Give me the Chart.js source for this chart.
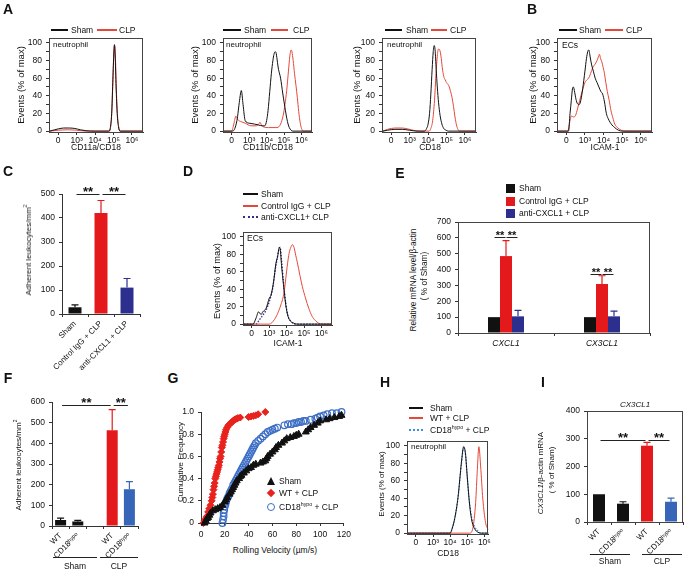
<!DOCTYPE html>
<html><head><meta charset="utf-8">
<script src="https://cdn.jsdelivr.net/npm/chart.js@4.4.1/dist/chart.umd.min.js"></script>
<style>
html,body{margin:0;padding:0;background:#fff}
body{width:685px;height:572px;position:relative;overflow:hidden;font-family:"Liberation Sans",Arial,sans-serif;color:#111}
canvas{position:absolute}
.t{position:absolute;white-space:nowrap;line-height:1}
sup{font-size:0.62em;vertical-align:super;line-height:0}
.ll{position:absolute;height:0}
</style></head><body>
<script>
// ===================== DATA =====================
const histTickLabels = ['0','10³','10⁴','10⁵','10⁶'];
const histYTicks = [0,10,20,30,40,50,60,70,80,90,100];

// A: CD11a/CD18
const a1ShamX = [-0.45,-0.2,0,0.3,0.6,0.9,1.2,1.5,2.0,2.75,2.82,2.9,2.96,3.01,3.05,3.09,3.14,3.2,3.27,3.35,4.6];
const a1ShamY = [0,1.5,2.5,3.5,3.5,3,1.5,0.5,0,0,3,20,55,85,98,85,50,20,5,0,0];
const a1ClpX  = [-0.45,0,0.5,1.0,1.5,2.75,2.83,2.91,2.97,3.02,3.06,3.1,3.15,3.21,3.28,3.36,4.6];
const a1ClpY  = [0,1,1.5,1,0,0,3,22,58,88,97,86,50,20,5,0,0];
// A: CD11b/CD18
const a2ShamX = [-0.45,0.05,0.3,0.45,0.55,0.65,0.77,1.0,1.3,1.52,1.75,1.9,2.0,2.08,2.18,2.27,2.36,2.42,2.49,2.55,2.62,2.68,2.73,2.8,2.86,2.93,3.0,3.08,3.16,3.23,3.3,3.4,3.5,4.6];
const a2ShamY = [0,0,12,35,46,30,12,9,8,7,6,6,12,23,45,65,80,87,90,88,78,70,66,60,52,42,33,23,14,8,4,1,0,0];
const a2ClpX  = [-0.45,0.0,0.12,0.24,0.35,0.5,0.77,1.1,1.4,1.55,1.62,1.7,1.8,2.1,2.6,2.8,2.95,3.05,3.15,3.25,3.33,3.4,3.45,3.52,3.6,3.68,3.76,3.84,3.92,4.0,4.08,4.6];
const a2ClpY  = [0,0,8,17,13,11,9,6,6,8,10,7,5,4,4,8,18,30,46,68,85,92,90,80,65,52,38,22,10,3,0,0];
// A: CD18
const a3ShamX = [-0.45,-0.2,0.2,0.6,1.0,1.4,1.8,1.92,2.0,2.08,2.15,2.22,2.28,2.33,2.38,2.44,2.5,2.57,2.65,2.75,2.85,2.98,3.1,4.6];
const a3ShamY = [0,1,2,2,1,0,0,3,8,20,42,70,90,97,92,70,50,32,18,8,3,1,0,0];
const a3ClpX  = [-0.45,-0.2,0.2,0.6,0.9,1.3,1.6,2.05,2.15,2.25,2.35,2.43,2.5,2.56,2.63,2.7,2.77,2.85,2.93,3.0,3.08,3.15,3.22,3.3,3.38,3.46,3.54,3.62,3.72,4.6];
const a3ClpY  = [0,2,3.5,3.5,2.5,0.5,0,0,3,12,35,65,85,93,92,85,72,62,58,55,53,50,45,38,28,16,7,2,0,0];
// B: ICAM-1
const bShamX = [-0.45,0.12,0.2,0.27,0.33,0.38,0.45,0.52,0.6,0.69,0.78,0.88,1.0,1.08,1.15,1.21,1.28,1.36,1.45,1.55,1.65,1.75,1.85,1.95,2.05,2.15,2.25,2.35,2.45,2.6,2.8,3.0,4.6];
const bShamY = [0,0,20,35,48,50,44,36,31,30,35,48,68,82,90,92,84,75,68,60,55,50,45,42,33,20,14,10,7,4,1,0,0];
const bClpX  = [-0.45,0.08,0.18,0.27,0.4,0.5,0.6,0.72,0.85,1.0,1.1,1.2,1.3,1.42,1.55,1.65,1.72,1.78,1.84,1.9,1.98,2.05,2.12,2.2,2.3,2.4,2.5,2.6,2.75,2.95,3.2,4.6];
const bClpY  = [0,0,10,17,16,18,25,35,45,55,58,60,65,72,76,80,84,87,82,79,72,65,55,45,35,23,15,8,4,1,0,0];
// D: ICAM-1
const dShamX = [-0.45,0.07,0.25,0.39,0.54,0.63,0.82,1.01,1.1,1.25,1.39,1.48,1.58,1.63,1.71,1.82,1.95,2.08,2.24,2.42,2.6,4.6];
const dShamY = [0,0,7,14,11,14,18,30,33,48,70,77,88,86,67,45,22,9,3,1,0,0];
const dIgGX  = [-0.45,1.01,1.29,1.48,1.67,1.86,1.95,2.05,2.14,2.24,2.33,2.42,2.52,2.61,2.76,2.9,3.08,3.27,3.46,3.65,3.84,4.0,4.6];
const dIgGY  = [0,0,5,12,22,37,52,69,81,88,91,88,79,71,56,43,30,18,9,4,1,0,0];
const dAntiX = [-0.45,0.25,0.44,0.63,0.82,1.01,1.2,1.33,1.44,1.56,1.63,1.71,1.82,1.95,2.08,2.27,2.5,4.6];
const dAntiY = [0,0,5,10,16,26,41,60,73,86,88,73,48,24,9,3,0,0];
// H: CD18
const hShamX = [-0.5,2.0,2.08,2.27,2.46,2.66,2.79,2.89,3.01,3.14,3.28,3.43,3.62,3.8,4.24];
const hShamY = [0,0,3,17,41,81,99,92,62,32,13,5,1,0,0];
const hHypoX = [-0.5,2.02,2.1,2.28,2.47,2.66,2.78,2.88,3.0,3.13,3.27,3.42,3.6,3.8,4.24];
const hHypoY = [0,0,4,18,42,80,97,93,64,35,17,8,3,0,0];
const hWtX   = [-0.5,3.14,3.33,3.49,3.59,3.68,3.78,3.91,4.07,4.2,4.24];
const hWtY   = [0,0,6,35,73,99,77,39,12,5,4];

// C
const cCats = ['Sham','Control IgG + CLP','anti-CXCL1 + CLP'];
const cVals = [28,421,110];
const cErr  = [10,52,38];
// E
const eCats = ['CXCL1','CX3CL1'];
const eSham = [100,100], eShamErr = [0,0];
const eIgG  = [485,309], eIgGErr  = [98,52];
const eAnti = [105,105], eAntiErr = [38,33];
// F
const fCats = ['WT','CD18ʰʸᵖᵒ','','WT','CD18ʰʸᵖᵒ'];
const fVals = [29,22,null,463,178];
const fErr  = [9,5,null,100,37];
// I
const iCats = ['WT','CD18ʰʸᵖᵒ','WT','CD18ʰʸᵖᵒ'];
const iVals = [100,66,275,73];
const iErr  = [0,7,12,13];
// G: cumulative frequency vs rolling velocity
const gShamV = [3,4,5,6,7,8,10,12,14,16,18,20,21,22,24,25,26,27,28,29,30,32,33,34,36,38,40,42,44,46,50,52,54,55,56,58,60,62,63,65,68,70,72,75,78,80,82,88,90,92,95,98,100,105,108,112,116,118];
const gShamF = [0,0.02,0.04,0.05,0.07,0.09,0.11,0.12,0.13,0.14,0.16,0.19,0.21,0.23,0.26,0.28,0.3,0.32,0.34,0.36,0.38,0.4,0.42,0.43,0.45,0.47,0.49,0.5,0.52,0.53,0.54,0.55,0.56,0.58,0.6,0.62,0.64,0.66,0.68,0.7,0.72,0.74,0.76,0.77,0.78,0.79,0.8,0.82,0.84,0.86,0.88,0.9,0.92,0.93,0.94,0.95,0.96,0.97];
const gWtV = [2,3,4,5,6,7,8,9,9.5,10,10.5,11,11.5,12,12.5,13,13.5,14,14.5,15,15.5,16,16.5,17,17.5,18,18.5,19,19.5,20,20.5,21,22,23,24,25,26,27,28,29,30,31,33,40,42,44,46,48,54];
const gWtF = [0,0.02,0.04,0.06,0.1,0.13,0.16,0.2,0.23,0.26,0.3,0.33,0.36,0.4,0.42,0.44,0.46,0.48,0.5,0.52,0.55,0.58,0.6,0.64,0.68,0.7,0.73,0.76,0.78,0.8,0.82,0.84,0.86,0.88,0.89,0.9,0.91,0.92,0.93,0.935,0.94,0.945,0.95,0.955,0.96,0.965,0.97,0.98,1.0];
const gHypoV = [18,18.5,19,19,19.5,20,20.5,21,22,23,24,25,26,27,28,29,30,31,32,33,34,35,36,37,38,39,40,41,42,43,44,45,46,48,50,52,54,56,58,60,62,64,70,73,76,78,80,82,84,86,88,92,96,98,100,103,106,110,114,118];
const gHypoF = [0,0.03,0.06,0.09,0.12,0.15,0.17,0.19,0.22,0.24,0.27,0.29,0.31,0.34,0.36,0.38,0.4,0.42,0.44,0.46,0.48,0.5,0.52,0.54,0.56,0.58,0.6,0.62,0.64,0.66,0.68,0.7,0.72,0.74,0.76,0.78,0.8,0.82,0.83,0.84,0.85,0.86,0.88,0.89,0.89,0.9,0.9,0.91,0.91,0.92,0.92,0.93,0.94,0.95,0.96,0.97,0.98,0.99,0.99,1.0];
const gTicksY = [0,0.2,0.4,0.6,0.8,1.0];

// ===================== STYLE =====================
const BLACK='#111', HRED='#e4483a', RED='#e3191b', NAVY='#2c2f8e', BLUE='#3766b9', HBLUE='#3f8fd8';
Chart.defaults.font.family = '"Liberation Sans", Arial, sans-serif';
Chart.defaults.font.size = 8.5;
Chart.defaults.color = '#111';
const axisGrid = {drawOnChartArea:false, tickLength:3, color:'#333', lineWidth:1};
const axisBorder = {color:'#333', width:1};

// ===================== PLUGINS =====================
Chart.register({
  id:'frame',
  afterDraw(c, a, o){ if(!o || !o.on) return; const r=c.chartArea, x=c.ctx; x.save(); x.strokeStyle='#444'; x.lineWidth=1;
    x.strokeRect(Math.round(r.left)+0.5, Math.round(r.top)+0.5, Math.round(r.right-r.left)-1, Math.round(r.bottom-r.top)); x.restore(); }
});
Chart.register({
  id:'errs',
  afterDatasetsDraw(c){ const x=c.ctx, ys=c.scales.y; x.save(); x.lineWidth=1.2;
    c.data.datasets.forEach((ds,i)=>{ if(!ds.err) return; const meta=c.getDatasetMeta(i);
      meta.data.forEach((bar,j)=>{ const e=ds.err[j], v=ds.data[j]; if(v==null||!e) return;
        const col = Array.isArray(ds.backgroundColor)?ds.backgroundColor[j]:ds.backgroundColor;
        const yt = ys.getPixelForValue(v+e); x.strokeStyle=col; x.beginPath();
        x.moveTo(bar.x, bar.y); x.lineTo(bar.x, yt); x.moveTo(bar.x-3.5, yt); x.lineTo(bar.x+3.5, yt); x.stroke(); }); });
    x.restore(); }
});
Chart.register({
  id:'sig',
  afterDatasetsDraw(c, a, o){ if(!o || !o.items) return; const x=c.ctx, ys=c.scales.y; x.save();
    x.strokeStyle='#222'; x.lineWidth=1; x.fillStyle='#111'; x.font='bold '+(o.fs||12)+'px "Liberation Sans", Arial, sans-serif';
    x.textAlign='center'; x.textBaseline='alphabetic';
    o.items.forEach(it=>{ const pa=c.getDatasetMeta(it.a[0]).data[it.a[1]], pb=c.getDatasetMeta(it.b[0]).data[it.b[1]];
      const g=o.gap||1.5; const x1=pa.x+g, x2=pb.x-g, y=Math.round(ys.getPixelForValue(it.v))+0.5;
      x.beginPath(); x.moveTo(x1,y); x.lineTo(x2,y); x.stroke();
      x.fillText('**', (x1+x2)/2, y+(o.dy||1)); });
    x.restore(); }
});
Chart.register({
  id:'groups',
  afterDraw(c, a, o){ if(!o || !o.items) return; const x=c.ctx, xs=c.scales.x, b=c.chartArea.bottom; x.save();
    x.strokeStyle='#222'; x.lineWidth=1; x.fillStyle='#111'; x.font=(o.fs||8.5)+'px "Liberation Sans", Arial, sans-serif';
    x.textAlign='center'; x.textBaseline='middle';
    o.items.forEach(it=>{ const x1=xs.getPixelForValue(it.from), x2=xs.getPixelForValue(it.to), y=Math.round(b+o.lineDy)+0.5;
      x.beginPath(); x.moveTo(x1,y); x.lineTo(x2,y); x.stroke(); x.fillText(it.label,(x1+x2)/2, b+o.textDy); });
    x.restore(); }
});

// ===================== HELPERS =====================
function place(p, m){
  const c=document.createElement('canvas');
  const L=p.l-m.yW, T=p.t-m.padT, W=p.r-p.l+m.yW+m.padR, H=p.b-p.t+m.padT+m.xH;
  c.width=W; c.height=H; Object.assign(c.style,{left:L+'px',top:T+'px',width:W+'px',height:H+'px'});
  document.body.appendChild(c); return c;
}
function build(p, m, cfg){
  const c=place(p,m), o=cfg.options;
  o.responsive=false; o.maintainAspectRatio=false; o.animation=false; o.devicePixelRatio=1;
  o.layout={padding:{top:m.padT,right:m.padR,left:0,bottom:0},autoPadding:false};
  o.scales.x.afterFit=s=>{s.height=m.xH;}; o.scales.y.afterFit=s=>{s.width=m.yW;};
  o.plugins=Object.assign({legend:{display:false},tooltip:{enabled:false}}, o.plugins||{});
  return new Chart(c,cfg);
}
function hist(p, m, series, xr){
  return build(p, m, {type:'line',
    data:{datasets:series.map(s=>({data:s.x.map((v,i)=>({x:v,y:s.y[i]})), borderColor:s.c, borderWidth:s.w||1, borderDash:s.d||[],
      pointRadius:0, cubicInterpolationMode:'monotone', fill:false}))},
    options:{scales:{
      x:{type:'linear',min:xr[0],max:xr[1],afterBuildTicks:s=>{s.ticks=histTickLabels.map((_,i)=>({value:i}));},
        ticks:{callback:v=>histTickLabels[v],maxRotation:0,autoSkip:false,padding:1},grid:axisGrid,border:axisBorder},
      y:{type:'linear',min:-1,max:105.5,afterBuildTicks:s=>{s.ticks=histYTicks.map(v=>({value:v}));},
        ticks:{callback:v=>(v%20===0?String(v):''),padding:4,autoSkip:false},grid:axisGrid,border:axisBorder}},
      plugins:{frame:{on:true}}}});
}
function bars(p, m, cats, datasets, o){
  return build(p, m, {type:'bar', data:{labels:cats, datasets:datasets},
    options:{scales:{
      x:{type:'category',offset:true,grid:Object.assign({},axisGrid,{offset:true}),border:axisBorder,
        ticks:{minRotation:o.rot,maxRotation:o.rot,autoSkip:false,padding:o.tickPad||2,font:o.xFont||{size:8}}},
      y:{min:0,max:o.ymax,ticks:{stepSize:o.step,padding:4,autoSkip:false},grid:axisGrid,border:axisBorder}},
      plugins:o.plugins}});
}
function T(s,x,y,o){ o=o||{}; const d=document.createElement('div'); d.className='t'; d.innerHTML=s;
  d.style.left=x+'px'; d.style.top=y+'px'; d.style.fontSize=(o.fs||8)+'px';
  d.style.transform=(o.c||o.rot)?('translate(-50%,-50%)'+(o.rot?' rotate(-90deg)':'')):'translate(0,-50%)';
  if(o.b) d.style.fontWeight='bold'; if(o.i) d.style.fontStyle='italic';
  document.body.appendChild(d); }
function LL(x1,x2,y,col,dot){ const d=document.createElement('div'); d.className='ll';
  Object.assign(d.style,{left:x1+'px',top:(y-1)+'px',width:(x2-x1)+'px',borderTop:(dot?'2px dotted ':'2px solid ')+col});
  document.body.appendChild(d); }
function box(x,y,w,h,css){ const d=document.createElement('div'); d.style.position='absolute';
  d.style.left=x+'px'; d.style.top=y+'px'; d.style.width=w+'px'; d.style.height=h+'px'; Object.assign(d.style,css||{});
  document.body.appendChild(d); return d; }

// ===================== PANEL A / B =====================
const hm = {yW:30,xH:16,padT:12,padR:3};
const hr = [-0.5,4.6];
hist({l:49,t:38,r:143,b:132}, hm, [{x:a1ShamX,y:a1ShamY,c:BLACK},{x:a1ClpX,y:a1ClpY,c:HRED}], hr);
hist({l:223,t:38,r:312,b:132}, hm, [{x:a2ShamX,y:a2ShamY,c:BLACK},{x:a2ClpX,y:a2ClpY,c:HRED}], hr);
hist({l:382,t:38,r:476,b:132}, hm, [{x:a3ShamX,y:a3ShamY,c:BLACK},{x:a3ClpX,y:a3ClpY,c:HRED}], hr);
hist({l:557,t:38,r:652,b:132}, hm, [{x:bShamX,y:bShamY,c:BLACK},{x:bClpX,y:bClpY,c:HRED}], hr);

[[51,68,71,97,117,119],[223,241,244,271,288,293],[385,402,406,431,447,450],[559,577,579,605,623,626]].forEach(a=>{
  LL(a[0],a[1],30,BLACK); T('Sham',a[2],30,{fs:8.5}); LL(a[3],a[4],30,HRED); T('CLP',a[5],30,{fs:8.5}); });
[[21,85],[195,85],[357,85],[533,85]].forEach(a=>T('Events (% of max)',a[0],a[1],{rot:1,fs:9.5}));
T('CD11a/CD18',96,147,{c:1,fs:8.5}); T('CD11b/CD18',268,147,{c:1,fs:8.5}); T('CD18',430,147,{c:1,fs:8.5}); T('ICAM-1',605,147,{c:1,fs:8.5});
T('neutrophil',53,45); T('neutrophil',226,45); T('neutrophil',387,45); T('ECs',562,45,{fs:8.5});

// ===================== PANEL C =====================
bars({l:62,t:194,r:140,b:314}, {yW:62,xH:60,padT:14,padR:4}, cCats,
  [{data:cVals, err:cErr, backgroundColor:[BLACK,RED,NAVY], barPercentage:0.5, categoryPercentage:1}],
  {rot:45, ymax:500, step:100, plugins:{sig:{fs:13,items:[{a:[0,0],b:[0,1],v:500},{a:[0,1],b:[0,2],v:500}]}}});
T('Adherent leukocytes/mm<sup>2</sup>',29,250,{rot:1});

// ===================== PANEL D =====================
hist({l:243,t:232,r:332,b:325}, hm, [{x:dShamX,y:dShamY,c:BLACK},{x:dIgGX,y:dIgGY,c:HRED},{x:dAntiX,y:dAntiY,c:NAVY,d:[1.5,1.5],w:1.3}], hr);
LL(243,258,194,BLACK); T('Sham',261,194,{fs:8.5});
LL(243,258,206,HRED); T('Control IgG + CLP',261,206,{fs:8.5});
LL(243,258,217,NAVY,1); T('anti-CXCL1+ CLP',261,217,{fs:8.5});
T('Events (% of max)',218,281,{rot:1,fs:9.3}); T('ICAM-1',288,343,{c:1,fs:8.5}); T('ECs',247,238,{fs:8.5});

// ===================== PANEL E =====================
bars({l:458,t:222,r:650,b:333}, {yW:30,xH:18,padT:12,padR:4}, eCats,
  [{data:eSham, err:eShamErr, backgroundColor:BLACK, barPercentage:1, categoryPercentage:0.375},
   {data:eIgG, err:eIgGErr, backgroundColor:RED, barPercentage:1, categoryPercentage:0.375},
   {data:eAnti, err:eAntiErr, backgroundColor:NAVY, barPercentage:1, categoryPercentage:0.375}],
  {rot:0, ymax:700, step:100, tickPad:3, xFont:{size:8.5,style:'italic'}, plugins:{frame:{on:true},
   sig:{fs:11,gap:0.5,items:[{a:[0,0],b:[1,0],v:605},{a:[1,0],b:[2,0],v:605},{a:[0,1],b:[1,1],v:372},{a:[1,1],b:[2,1],v:372}]}}});
[[188,'Sham',BLACK],[201,'Control IgG + CLP',RED],[213,'anti-CXCL1 + CLP',NAVY]].forEach(a=>{
  box(506,a[0]-4.5,9,9,{background:a[2]}); T(a[1],519,a[0],{fs:8.5}); });
T('Relative mRNA level/β-actin',413,280,{rot:1,fs:8.3}); T('( % of Sham)',424,276,{rot:1,fs:8.3});

// ===================== PANEL F =====================
bars({l:52,t:402,r:138,b:526}, {yW:52,xH:46,padT:14,padR:4}, fCats,
  [{data:fVals, err:fErr, backgroundColor:[BLACK,BLACK,BLACK,RED,BLUE], barPercentage:0.64, categoryPercentage:1}],
  {rot:45, ymax:600, step:100, plugins:{
    sig:{fs:13,items:[{a:[0,0],b:[0,3],v:585},{a:[0,3],b:[0,4],v:585}]},
    groups:{lineDy:31,textDy:41,items:[{label:'Sham',from:-0.44,to:2.12},{label:'CLP',from:2.29,to:4.5}]}}});
T('Adherent leukocytes/mm<sup>2</sup>',19,465,{rot:1});

// ===================== PANEL G =====================
build({l:201,t:412,r:347,b:523}, {yW:24,xH:20,padT:12,padR:8}, {type:'line',
  data:{datasets:[
    {data:gShamV.map((v,i)=>({x:v,y:gShamF[i]})), showLine:false, pointStyle:'triangle', pointRadius:4, backgroundColor:BLACK, borderColor:BLACK, borderWidth:1, clip:false},
    {data:gWtV.map((v,i)=>({x:v,y:gWtF[i]})), showLine:false, pointStyle:'rectRot', pointRadius:3.5, backgroundColor:'#e8221d', borderColor:'#e8221d', borderWidth:1, clip:false},
    {data:gHypoV.map((v,i)=>({x:v,y:gHypoF[i]})), showLine:false, pointStyle:'circle', pointRadius:3.3, backgroundColor:'rgba(255,255,255,0)', borderColor:'#3d6ec6', borderWidth:1.2, clip:false}]},
  options:{scales:{
    x:{type:'linear',min:0,max:120,ticks:{stepSize:20,padding:4,maxRotation:0},grid:axisGrid,border:axisBorder},
    y:{type:'linear',min:0,max:1,afterBuildTicks:s=>{s.ticks=gTicksY.map(v=>({value:v}));},ticks:{callback:v=>(v===0?'0':v.toFixed(1)),padding:4},grid:axisGrid,border:axisBorder}}}});
T('Cumulative Frequency',181,462,{rot:1}); T('Rolling Velocity (µm/s)',275,550,{c:1,fs:8.5});
box(266.5,477,0,0,{borderLeft:'4.5px solid transparent',borderRight:'4.5px solid transparent',borderBottom:'8px solid '+BLACK});
box(267.5,489.5,6,6,{background:'#e8221d',transform:'rotate(45deg)'});
box(266.5,503,6,6,{border:'1.5px solid #3d6ec6',borderRadius:'50%'});
T('Sham',279,481,{fs:8.5}); T('WT + CLP',279,493,{fs:8.5}); T('CD18<sup>hypo</sup> + CLP',279,507,{fs:8.5});

// ===================== PANEL H =====================
hist({l:407,t:441,r:489,b:534}, {yW:28,xH:14,padT:12,padR:3},
  [{x:hShamX,y:hShamY,c:BLACK},{x:hWtX,y:hWtY,c:HRED},{x:hHypoX,y:hHypoY,c:HBLUE,d:[1.5,1.5],w:1.3}], [-0.52,4.24]);
LL(409,423,408,BLACK); T('Sham',430,408,{fs:8.5});
LL(409,423,418,HRED); T('WT + CLP',430,418,{fs:8.5});
LL(409,423,430,HBLUE,1); T('CD18<sup>hypo</sup> + CLP',430,430,{fs:8.5});
T('Events (% of max)',382,484,{rot:1}); T('CD18',448,553,{c:1,fs:8.5}); T('neutrophil',411,447);

// ===================== PANEL I =====================
bars({l:587,t:411,r:683,b:522}, {yW:24,xH:50,padT:12,padR:2}, iCats,
  [{data:iVals, err:iErr, backgroundColor:[BLACK,BLACK,RED,BLUE], barPercentage:0.5, categoryPercentage:1}],
  {rot:45, ymax:400, step:100, plugins:{frame:{on:true},
    sig:{fs:13,items:[{a:[0,0],b:[0,2],v:295},{a:[0,2],b:[0,3],v:295}]},
    groups:{lineDy:32,textDy:40,items:[{label:'Sham',from:-0.38,to:1.29},{label:'CLP',from:1.79,to:3.46}]}}});
T('<i>CX3CL1</i>',635,405,{c:1});
T('<i>CX3CL1</i>/β-actin mRNA',541,473,{rot:1}); T('( % of Sham)',552,470,{rot:1});

// ===================== PANEL LETTERS =====================
[['A',8,9],['B',532,9],['C',8,171],['D',188,171],['E',400,173],['F',8,378],['G',173,378],['H',385,382],['I',543,382]]
  .forEach(a=>T(a[0],a[1],a[2],{c:1,b:1,fs:14}));
</script>
</body></html>
